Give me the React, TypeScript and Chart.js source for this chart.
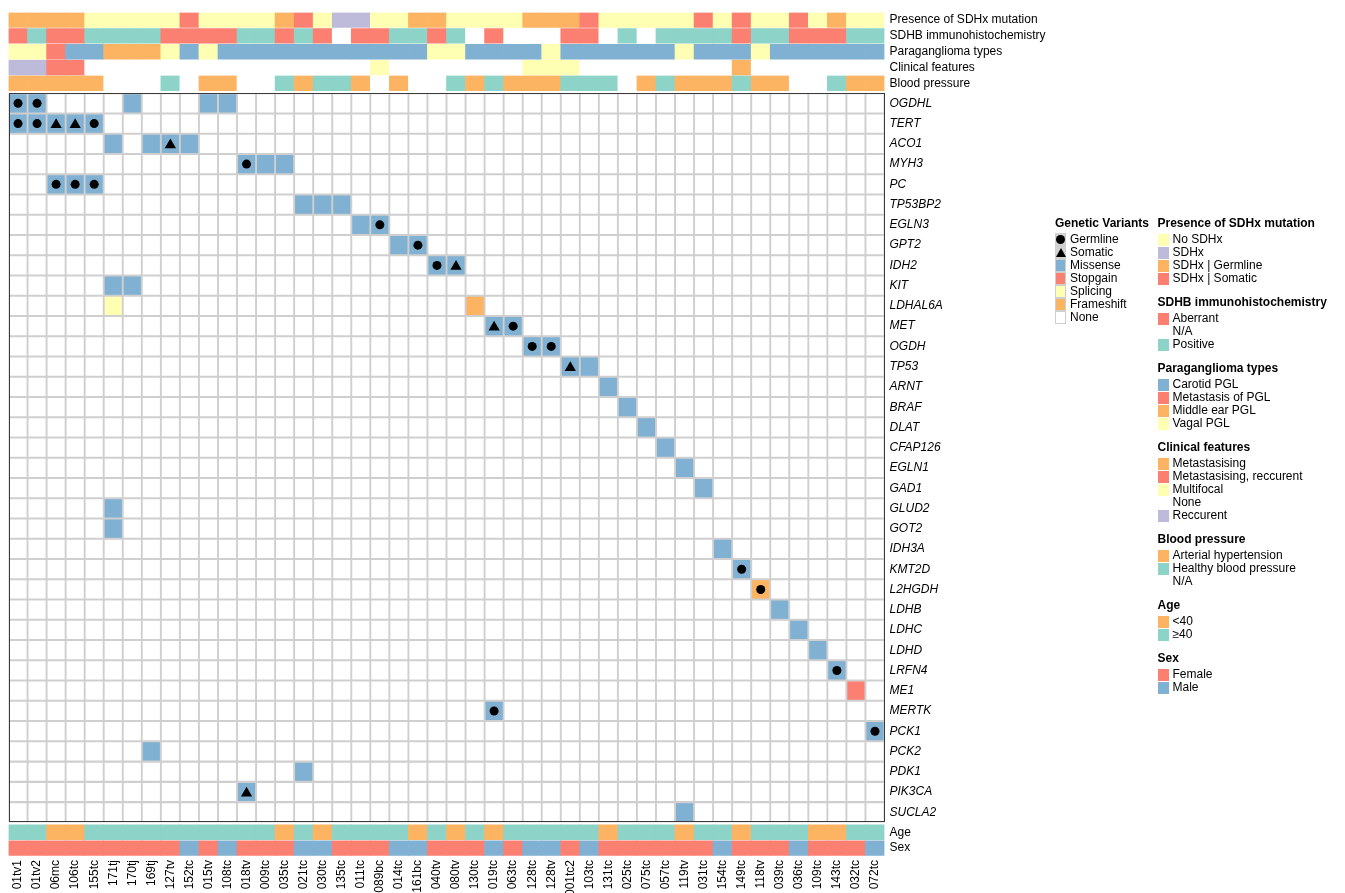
import React, { useEffect, useRef } from 'react';
import { Chart, registerables } from 'chart.js';

Chart.register(...registerables);

const FONT = '"Liberation Sans", Arial, Helvetica, sans-serif';

// ---------------- data ----------------
const samples = ['01tv1', '01tv2', '06mc', '106tc', '155tc', '171tj', '170tj', '169tj', '127tv', '152tc', '015tv', '108tc', '018tv', '009tc', '035tc', '021tc', '030tc', '135tc', '011tc', '089bc', '014tc', '161bc', '040tv', '080tv', '130tc', '019tc', '063tc', '128tc', '128tv', '001tc2', '103tc', '131tc', '025tc', '075tc', '057tc', '119tv', '031tc', '154tc', '149tc', '118tv', '039tc', '036tc', '109tc', '143tc', '032tc', '072tc'];

const genes = ['OGDHL', 'TERT', 'ACO1', 'MYH3', 'PC', 'TP53BP2', 'EGLN3', 'GPT2', 'IDH2', 'KIT', 'LDHAL6A', 'MET', 'OGDH', 'TP53', 'ARNT', 'BRAF', 'DLAT', 'CFAP126', 'EGLN1', 'GAD1', 'GLUD2', 'GOT2', 'IDH3A', 'KMT2D', 'L2HGDH', 'LDHB', 'LDHC', 'LDHD', 'LRFN4', 'ME1', 'MERTK', 'PCK1', 'PCK2', 'PDK1', 'PIK3CA', 'SUCLA2'];

// [gene, sample, variant type, origin]
const mutations: [string, string, string, string][] = [
  ['OGDHL', '01tv1', 'Missense', 'Germline'],
  ['OGDHL', '01tv2', 'Missense', 'Germline'],
  ['OGDHL', '170tj', 'Missense', ''],
  ['OGDHL', '015tv', 'Missense', ''],
  ['OGDHL', '108tc', 'Missense', ''],
  ['TERT', '01tv1', 'Missense', 'Germline'],
  ['TERT', '01tv2', 'Missense', 'Germline'],
  ['TERT', '06mc', 'Missense', 'Somatic'],
  ['TERT', '106tc', 'Missense', 'Somatic'],
  ['TERT', '155tc', 'Missense', 'Germline'],
  ['ACO1', '171tj', 'Missense', ''],
  ['ACO1', '169tj', 'Missense', ''],
  ['ACO1', '127tv', 'Missense', 'Somatic'],
  ['ACO1', '152tc', 'Missense', ''],
  ['MYH3', '018tv', 'Missense', 'Germline'],
  ['MYH3', '009tc', 'Missense', ''],
  ['MYH3', '035tc', 'Missense', ''],
  ['PC', '06mc', 'Missense', 'Germline'],
  ['PC', '106tc', 'Missense', 'Germline'],
  ['PC', '155tc', 'Missense', 'Germline'],
  ['TP53BP2', '021tc', 'Missense', ''],
  ['TP53BP2', '030tc', 'Missense', ''],
  ['TP53BP2', '135tc', 'Missense', ''],
  ['EGLN3', '011tc', 'Missense', ''],
  ['EGLN3', '089bc', 'Missense', 'Germline'],
  ['GPT2', '014tc', 'Missense', ''],
  ['GPT2', '161bc', 'Missense', 'Germline'],
  ['IDH2', '040tv', 'Missense', 'Germline'],
  ['IDH2', '080tv', 'Missense', 'Somatic'],
  ['KIT', '171tj', 'Missense', ''],
  ['KIT', '170tj', 'Missense', ''],
  ['LDHAL6A', '171tj', 'Splicing', ''],
  ['LDHAL6A', '130tc', 'Frameshift', ''],
  ['MET', '019tc', 'Missense', 'Somatic'],
  ['MET', '063tc', 'Missense', 'Germline'],
  ['OGDH', '128tc', 'Missense', 'Germline'],
  ['OGDH', '128tv', 'Missense', 'Germline'],
  ['TP53', '001tc2', 'Missense', 'Somatic'],
  ['TP53', '103tc', 'Missense', ''],
  ['ARNT', '131tc', 'Missense', ''],
  ['BRAF', '025tc', 'Missense', ''],
  ['DLAT', '075tc', 'Missense', ''],
  ['CFAP126', '057tc', 'Missense', ''],
  ['EGLN1', '119tv', 'Missense', ''],
  ['GAD1', '031tc', 'Missense', ''],
  ['GLUD2', '171tj', 'Missense', ''],
  ['GOT2', '171tj', 'Missense', ''],
  ['IDH3A', '154tc', 'Missense', ''],
  ['KMT2D', '149tc', 'Missense', 'Germline'],
  ['L2HGDH', '118tv', 'Frameshift', 'Germline'],
  ['LDHB', '039tc', 'Missense', ''],
  ['LDHC', '036tc', 'Missense', ''],
  ['LDHD', '109tc', 'Missense', ''],
  ['LRFN4', '143tc', 'Missense', 'Germline'],
  ['ME1', '032tc', 'Stopgain', ''],
  ['MERTK', '019tc', 'Missense', 'Germline'],
  ['PCK1', '072tc', 'Missense', 'Germline'],
  ['PCK2', '169tj', 'Missense', ''],
  ['PDK1', '021tc', 'Missense', ''],
  ['PIK3CA', '018tv', 'Missense', 'Somatic'],
  ['SUCLA2', '119tv', 'Missense', ''],
];

const variantTypes = ['Missense', 'Stopgain', 'Splicing', 'Frameshift'];

// annotation tracks (one code per sample)
const presence = ['G', 'G', 'G', 'G', 'N', 'N', 'N', 'N', 'N', 'S', 'N', 'N', 'N', 'N', 'G', 'S', 'N', 'X', 'X', 'N', 'N', 'G', 'G', 'N', 'N', 'N', 'N', 'G', 'G', 'G', 'S', 'N', 'N', 'N', 'N', 'N', 'S', 'N', 'S', 'N', 'N', 'S', 'N', 'G', 'N', 'N'];
const sdhb = ['A', 'P', 'A', 'A', 'P', 'P', 'P', 'P', 'A', 'A', 'A', 'A', 'P', 'P', 'A', 'P', 'A', 'N', 'A', 'A', 'P', 'P', 'A', 'P', 'N', 'A', 'N', 'N', 'N', 'A', 'A', 'N', 'P', 'N', 'P', 'P', 'P', 'P', 'A', 'P', 'P', 'A', 'A', 'A', 'P', 'P'];
const pglType = ['V', 'V', 'M', 'C', 'C', 'E', 'E', 'E', 'V', 'C', 'V', 'C', 'C', 'C', 'C', 'C', 'C', 'C', 'C', 'C', 'C', 'C', 'V', 'V', 'C', 'C', 'C', 'C', 'V', 'C', 'C', 'C', 'C', 'C', 'C', 'V', 'C', 'C', 'C', 'V', 'C', 'C', 'C', 'C', 'C', 'C'];
const clinical = ['R', 'R', 'T', 'T', 'N', 'N', 'N', 'N', 'N', 'N', 'N', 'N', 'N', 'N', 'N', 'N', 'N', 'N', 'N', 'F', 'N', 'N', 'N', 'N', 'N', 'N', 'N', 'F', 'F', 'F', 'N', 'N', 'N', 'N', 'N', 'N', 'N', 'N', 'M', 'N', 'N', 'N', 'N', 'N', 'N', 'N'];
const bloodPressure = ['H', 'H', 'H', 'H', 'H', 'N', 'N', 'N', 'B', 'N', 'H', 'H', 'N', 'N', 'B', 'H', 'B', 'B', 'H', 'N', 'H', 'N', 'N', 'B', 'H', 'B', 'H', 'H', 'H', 'B', 'B', 'B', 'N', 'H', 'B', 'H', 'H', 'H', 'B', 'H', 'H', 'N', 'N', 'B', 'H', 'H'];
const age = ['O', 'O', 'Y', 'Y', 'O', 'O', 'O', 'O', 'O', 'O', 'O', 'O', 'O', 'O', 'Y', 'O', 'Y', 'O', 'O', 'O', 'O', 'Y', 'O', 'Y', 'O', 'Y', 'O', 'O', 'O', 'O', 'O', 'Y', 'O', 'O', 'O', 'Y', 'O', 'O', 'Y', 'O', 'O', 'O', 'Y', 'Y', 'O', 'O'];
const sex = ['F', 'F', 'F', 'F', 'F', 'F', 'F', 'F', 'F', 'M', 'F', 'M', 'F', 'F', 'F', 'M', 'M', 'F', 'F', 'F', 'M', 'M', 'F', 'F', 'F', 'M', 'F', 'M', 'M', 'F', 'M', 'F', 'F', 'F', 'F', 'F', 'F', 'M', 'F', 'F', 'F', 'M', 'F', 'F', 'F', 'M'];

// legend levels: [code, label]
const presenceLevels: [string, string][] = [['N', 'No SDHx'], ['X', 'SDHx'], ['G', 'SDHx | Germline'], ['S', 'SDHx | Somatic']];
const sdhbLevels: [string, string][] = [['A', 'Aberrant'], ['N', 'N/A'], ['P', 'Positive']];
const pglLevels: [string, string][] = [['C', 'Carotid PGL'], ['M', 'Metastasis of PGL'], ['E', 'Middle ear PGL'], ['V', 'Vagal PGL']];
const clinicalLevels: [string, string][] = [['M', 'Metastasising'], ['T', 'Metastasising, reccurent'], ['F', 'Multifocal'], ['N', 'None'], ['R', 'Reccurent']];
const bpLevels: [string, string][] = [['H', 'Arterial hypertension'], ['B', 'Healthy blood pressure'], ['N', 'N/A']];
const ageLevels: [string, string][] = [['Y', '<40'], ['O', '≥40']];
const sexLevels: [string, string][] = [['F', 'Female'], ['M', 'Male']];

// ---------------- styles ----------------
const C_TEAL = '#8DD3C7';
const C_YELLOW = '#FFFFB3';
const C_PURPLE = '#BEBADA';
const C_RED = '#FB8072';
const C_BLUE = '#80B1D3';
const C_ORANGE = '#FDB462';
const C_NONE = '#FFFFFF';
const GRID = '#CFCFCF';

const variantColors: Record<string, string> = { Missense: C_BLUE, Stopgain: C_RED, Splicing: C_YELLOW, Frameshift: C_ORANGE };
const presenceColors: Record<string, string> = { N: C_YELLOW, X: C_PURPLE, G: C_ORANGE, S: C_RED };
const sdhbColors: Record<string, string> = { A: C_RED, N: C_NONE, P: C_TEAL };
const pglColors: Record<string, string> = { C: C_BLUE, M: C_RED, E: C_ORANGE, V: C_YELLOW };
const clinicalColors: Record<string, string> = { M: C_ORANGE, T: C_RED, F: C_YELLOW, N: C_NONE, R: C_PURPLE };
const bpColors: Record<string, string> = { H: C_ORANGE, B: C_TEAL, N: C_NONE };
const ageColors: Record<string, string> = { Y: C_ORANGE, O: C_TEAL };
const sexColors: Record<string, string> = { F: C_RED, M: C_BLUE };

type Track = { name: string; values: string[]; levels: [string, string][]; colors: Record<string, string> };

const topTracks: Track[] = [
  { name: 'Presence of SDHx mutation', values: presence, levels: presenceLevels, colors: presenceColors },
  { name: 'SDHB immunohistochemistry', values: sdhb, levels: sdhbLevels, colors: sdhbColors },
  { name: 'Paraganglioma types', values: pglType, levels: pglLevels, colors: pglColors },
  { name: 'Clinical features', values: clinical, levels: clinicalLevels, colors: clinicalColors },
  { name: 'Blood pressure', values: bloodPressure, levels: bpLevels, colors: bpColors },
];
const bottomTracks: Track[] = [
  { name: 'Age', values: age, levels: ageLevels, colors: ageColors },
  { name: 'Sex', values: sex, levels: sexLevels, colors: sexColors },
];

// vertical layout in "gene row" units
const ANN_H = 0.78;
const GAP = 0.1;
const INSET = 0.025;
const CELL_INSET = 0.05;
const H0 = topTracks.length * ANN_H + GAP;
const B0 = H0 + genes.length + GAP;
const YMAX = B0 + bottomTracks.length * ANN_H;

const rowLabels = [...topTracks.map((t) => t.name), ...genes, ...bottomTracks.map((t) => t.name)];
const rowCenters = [
  ...topTracks.map((_, i) => i * ANN_H + ANN_H / 2),
  ...genes.map((_, r) => H0 + r + 0.5),
  ...bottomTracks.map((_, j) => B0 + j * ANN_H + ANN_H / 2),
];

function buildDatasets() {
  const ds: any[] = [];
  const annDataset = (t: Track, y0: number) => ({
    type: 'bar',
    label: t.name,
    data: samples.map(() => [y0 + INSET, y0 + ANN_H - INSET]),
    backgroundColor: t.values.map((v) => t.colors[v]),
    borderWidth: 0,
    grouped: false,
    barPercentage: 1,
    categoryPercentage: 1,
    order: 3,
  });
  topTracks.forEach((t, i) => ds.push(annDataset(t, i * ANN_H)));
  bottomTracks.forEach((t, j) => ds.push(annDataset(t, B0 + j * ANN_H)));
  genes.forEach((g, r) => {
    ds.push({
      type: 'bar',
      label: g,
      data: samples.map(() => [H0 + r + CELL_INSET, H0 + r + 1 - CELL_INSET]),
      backgroundColor: samples.map((s) => {
        const m = mutations.find((mm) => mm[0] === g && mm[1] === s);
        return m ? variantColors[m[2]] : C_NONE;
      }),
      borderWidth: 0,
      inflateAmount: 0,
      grouped: false,
      barPercentage: 0.9,
      categoryPercentage: 1,
      order: 2,
    });
  });
  const markers = (origin: string) =>
    mutations
      .filter((m) => m[3] === origin)
      .map((m) => ({ x: m[1], y: H0 + genes.indexOf(m[0]) + 0.5 }));
  ds.push({
    type: 'scatter',
    label: 'Germline',
    data: markers('Germline'),
    pointStyle: 'circle',
    pointRadius: 4.5,
    backgroundColor: '#000',
    borderWidth: 0,
    order: 0,
  });
  ds.push({
    type: 'scatter',
    label: 'Somatic',
    data: markers('Somatic').map((p) => ({ x: p.x, y: p.y + 0.06 })),
    pointStyle: 'triangle',
    pointRadius: 6.5,
    backgroundColor: '#000',
    borderWidth: 0,
    order: 0,
  });
  return ds;
}

// grey grid background behind the heatmap cells, and the frame around it
const heatmapPlugin = {
  id: 'heatFrame',
  beforeDatasetsDraw(chart: any) {
    const { ctx, scales } = chart;
    const x = scales.x;
    const y = scales.y;
    const top = y.getPixelForValue(H0);
    const bottom = y.getPixelForValue(H0 + genes.length);
    ctx.save();
    ctx.fillStyle = GRID;
    ctx.fillRect(x.left, top, x.right - x.left, bottom - top);
    ctx.restore();
  },
  afterDatasetsDraw(chart: any) {
    const { ctx, scales } = chart;
    const x = scales.x;
    const y = scales.y;
    const top = y.getPixelForValue(H0);
    const bottom = y.getPixelForValue(H0 + genes.length);
    ctx.save();
    ctx.strokeStyle = '#3a3a3a';
    ctx.lineWidth = 1;
    ctx.strokeRect(Math.round(x.left) + 0.5, Math.round(top) + 0.5, Math.round(x.right - x.left) - 1, Math.round(bottom - top) - 1);
    ctx.restore();
  },
};

// ---------------- legend ----------------
const legendText: React.CSSProperties = { fontFamily: FONT, fontSize: 12, color: '#000', whiteSpace: 'nowrap' };

function LegendItem({ swatch, label }: { swatch: React.ReactNode; label: string }) {
  return (
    <div style={{ display: 'flex', alignItems: 'center', height: 13, ...legendText }}>
      {swatch}
      <span style={{ marginLeft: 4, lineHeight: '13px' }}>{label}</span>
    </div>
  );
}

function Group({ title, children }: { title: string; children: React.ReactNode }) {
  return (
    <div style={{ marginBottom: 10 }}>
      <div style={{ ...legendText, fontWeight: 'bold', lineHeight: '14px', height: 14, marginBottom: 3 }}>{title}</div>
      {children}
    </div>
  );
}

function TrackLegend({ track }: { track: Track }) {
  return (
    <Group title={track.name}>
      {track.levels.map(([code, label]) => (
        <LegendItem
          key={code}
          label={label}
          swatch={<div style={{ width: 11, height: 12, background: track.colors[code], flex: 'none' }} />}
        />
      ))}
    </Group>
  );
}

function VariantLegend() {
  const box = (bg: string, inner?: React.ReactNode) => (
    <div
      style={{
        width: 11,
        height: 13,
        boxSizing: 'border-box',
        background: bg,
        border: `1px solid ${GRID}`,
        flex: 'none',
        display: 'flex',
        alignItems: 'center',
        justifyContent: 'center',
      }}
    >
      {inner}
    </div>
  );
  return (
    <Group title="Genetic Variants">
      <LegendItem label="Germline" swatch={box('#D3D3D3', <div style={{ width: 9, height: 9, borderRadius: '50%', background: '#000' }} />)} />
      <LegendItem
        label="Somatic"
        swatch={box('#D3D3D3', <div style={{ width: 0, height: 0, borderLeft: '5px solid transparent', borderRight: '5px solid transparent', borderBottom: '9px solid #000' }} />)}
      />
      {variantTypes.map((v) => (
        <LegendItem key={v} label={v} swatch={box(variantColors[v])} />
      ))}
      <LegendItem label="None" swatch={box(C_NONE)} />
    </Group>
  );
}

// ---------------- chart ----------------
export default function App() {
  const canvasRef = useRef<HTMLCanvasElement | null>(null);

  useEffect(() => {
    if (!canvasRef.current) return;
    const chart = new Chart(canvasRef.current, {
      type: 'bar',
      data: { labels: samples, datasets: buildDatasets() },
      plugins: [heatmapPlugin],
      options: {
        animation: false,
        responsive: false,
        devicePixelRatio: 1,
        layout: { padding: { left: 8.5, top: 10, right: 0, bottom: 0 } },
        plugins: { legend: { display: false }, tooltip: { enabled: false } },
        events: [],
        scales: {
          x: {
            type: 'category',
            offset: true,
            grid: { display: false, drawTicks: false },
            border: { display: false },
            ticks: {
              autoSkip: false,
              minRotation: 90,
              maxRotation: 90,
              padding: 4,
              color: '#000',
              font: { family: FONT, size: 12 },
            },
            afterFit: (scale: any) => {
              scale.height = 37;
            },
          },
          y: {
            type: 'linear',
            position: 'right',
            reverse: true,
            min: 0,
            max: YMAX,
            grid: { display: false, drawTicks: false },
            border: { display: false },
            afterBuildTicks: (scale: any) => {
              scale.ticks = rowCenters.map((v) => ({ value: v }));
            },
            ticks: {
              autoSkip: false,
              padding: 5,
              color: '#000',
              callback: (_v: any, i: number) => rowLabels[i],
              font: (ctx: any) => ({
                family: FONT,
                size: 12,
                style: ctx.index >= topTracks.length && ctx.index < topTracks.length + genes.length ? 'italic' : 'normal',
              }),
            },
            afterFit: (scale: any) => {
              scale.width = 460.5;
            },
          },
        },
      } as any,
    });
    return () => chart.destroy();
  }, []);

  return (
    <div style={{ position: 'absolute', left: 0, top: 0, width: 1345, height: 893, background: '#fff', overflow: 'hidden' }}>
      <canvas ref={canvasRef} width={1345} height={893} style={{ position: 'absolute', left: 0, top: 0 }} />
      <div style={{ position: 'absolute', left: 1055, top: 216 }}>
        <VariantLegend />
      </div>
      <div style={{ position: 'absolute', left: 1157.5, top: 216 }}>
        {[...topTracks, ...bottomTracks].map((t) => (
          <TrackLegend key={t.name} track={t} />
        ))}
      </div>
    </div>
  );
}
